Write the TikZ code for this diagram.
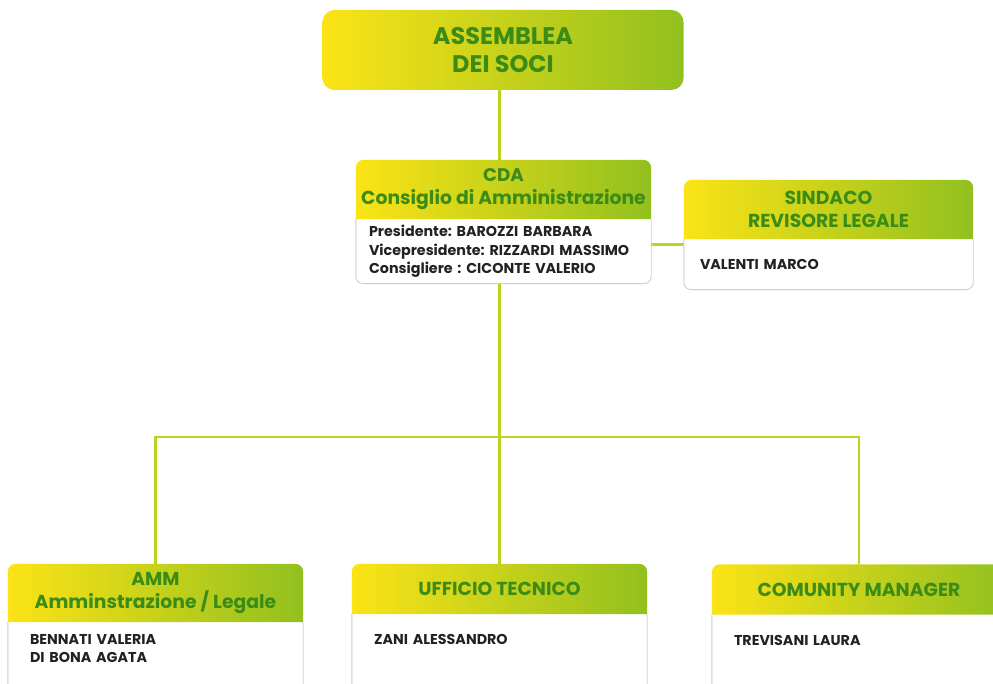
\documentclass[tikz,border=0pt]{standalone}
\usepackage{fontspec}
\setmainfont{Poppins}
\usetikzlibrary{positioning,backgrounds}
\frenchspacing

\definecolor{headyellow}{HTML}{FBE316}
\definecolor{headgreen}{HTML}{92C01F}
\definecolor{titlegreen}{HTML}{3B8C17}
\definecolor{namegray}{HTML}{222222}
\definecolor{framegray}{HTML}{C3D3CC}
\definecolor{linkgreen}{HTML}{BED31D}

\tikzset{
  headfill/.style={left color=headyellow, right color=headgreen},
  headbox/.style={font=\bfseries\fontsize{18.8}{23}\selectfont, text=titlegreen,
    align=center, inner sep=0pt},
  bodybox/.style={font=\bfseries\fontsize{14.3}{18.5}\selectfont, text=namegray,
    align=left, inner ysep=0pt, below=0pt of #1},
  frame/.style={draw=framegray, line width=0.9pt, rounded corners=7pt},
  link/.style={draw=linkgreen, line width=2.6pt},
}

\begin{document}
\begin{tikzpicture}[x=1pt, y=-1pt]
    \useasboundingbox (0,0) rectangle (993,684);

    % Top box
    \node[headfill, rounded corners=12pt, font=\bfseries\fontsize{24}{28}\selectfont,
      text=titlegreen, align=center, minimum width=361pt, minimum height=80pt]
      (ass) at (503,50) {ASSEMBLEA\\DEI SOCI};

    % Board and auditor
    \node[headbox, minimum width=295pt, minimum height=59pt] (cdah) at (503.5,189.5)
      {\fontsize{18.3}{22}\selectfont CDA\\Consiglio di Amministrazione};
    \node[bodybox=cdah, inner xsep=13pt, text width=269pt, minimum height=64pt] (cdab)
      {Presidente: BAROZZI BARBARA\\Vicepresidente: RIZZARDI MASSIMO\\Consigliere : CICONTE VALERIO};

    \node[headbox, minimum width=289pt, minimum height=59pt] (sinh) at (828.5,209.5)
      {SINDACO\\REVISORE LEGALE};
    \node[bodybox=sinh, inner xsep=16pt, text width=257pt, minimum height=50pt] (sinb)
      {VALENTI MARCO};

    % Offices
    \node[headbox, minimum width=295pt, minimum height=58pt] (ammh) at (155.5,593)
      {\fontsize{18.7}{22}\selectfont AMM\\Amminstrazione / Legale};
    \node[bodybox=ammh, inner xsep=22pt, inner ysep=12pt, text width=251pt, text depth=50pt] (ammb)
      {BENNATI VALERIA\\DI BONA AGATA};

    \node[headbox, minimum width=295pt, minimum height=50pt] (uffh) at (499.5,589)
      {UFFICIO TECNICO};
    \node[bodybox=uffh, inner xsep=22pt, inner ysep=20pt, text width=251pt, text depth=50pt] (uffb)
      {ZANI ALESSANDRO};

    \node[headbox, minimum width=294pt, minimum height=50pt] (comh) at (859,589.5)
      {COMUNITY MANAGER};
    \node[bodybox=comh, inner xsep=22pt, inner ysep=20pt, text width=250pt, text depth=50pt] (comb)
      {TREVISANI LAURA};

    \coordinate (split) at (499.5,437);

    \begin{scope}[on background layer]
        % Connectors
        \draw[link] (ass.south -| split) -- (cdah.north -| split);
        \draw[link] ([yshift=7pt]cdab.east) -- ([yshift=7pt]cdab.east -| sinb.west);
        \draw[link] (cdab.south -| split) -- (uffh.north);
        \draw[link] (ammh.north) |- (split) -| (comh.north);

        % Headers and frames
        \foreach \h/\b in {cdah/cdab, sinh/sinb, ammh/ammb, uffh/uffb, comh/comb} {
            \draw[frame] (\b.north west) -- (\b.south west) -- (\b.south east) -- (\b.north east);
            \shade[headfill, rounded corners=8pt] (\h.south west) -- (\h.north west)
              -- (\h.north east) -- (\h.south east);
        }
    \end{scope}
\end{tikzpicture}
\end{document}
